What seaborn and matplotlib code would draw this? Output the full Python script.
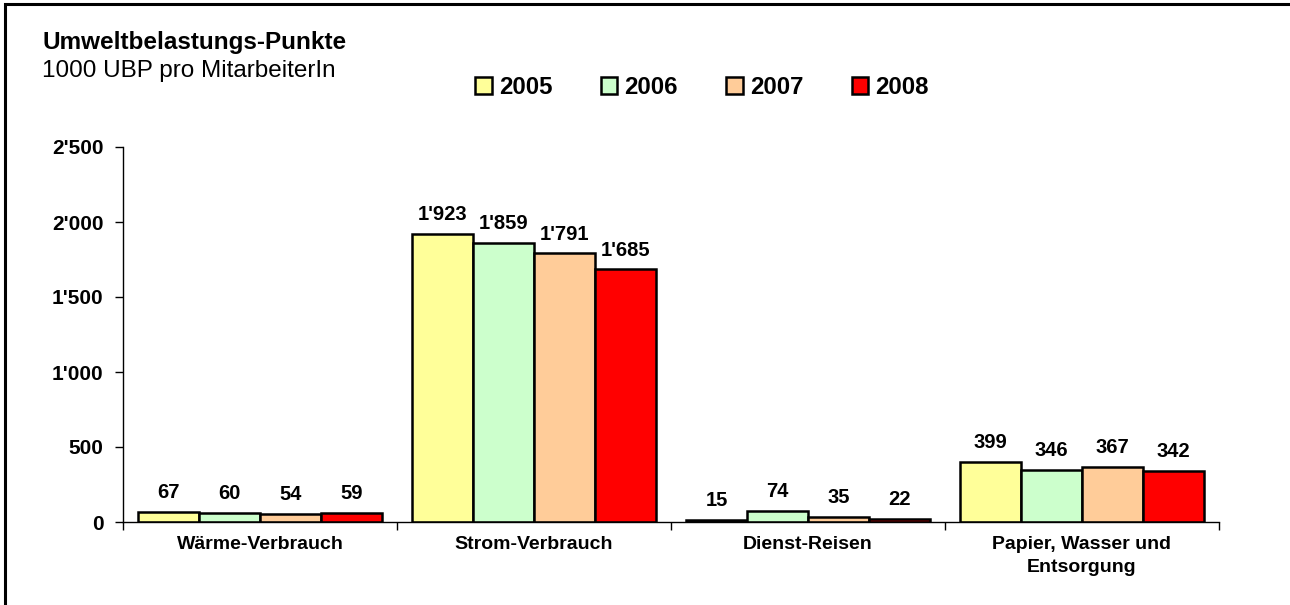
## IMPORTS
import numpy as np
import pandas as pd

import matplotlib
matplotlib.use('Agg')
import matplotlib.pyplot as plt
from matplotlib.patches import Rectangle
from matplotlib.ticker import FuncFormatter, FixedLocator, NullFormatter
import seaborn as sns

## DATA
categories = ['Wärme-Verbrauch', 'Strom-Verbrauch', 'Dienst-Reisen', 'Papier, Wasser und\nEntsorgung']
years = ['2005', '2006', '2007', '2008']
vals_2005 = [67, 1923, 15, 399]
vals_2006 = [60, 1859, 74, 346]
vals_2007 = [54, 1791, 35, 367]
vals_2008 = [59, 1685, 22, 342]
colors = ['#FFFF99', '#CCFFCC', '#FFCC99', '#FF0000']

# long format for seaborn
df = pd.DataFrame({
    'category': categories * 4,
    'year': np.repeat(years, 4),
    'value': vals_2005 + vals_2006 + vals_2007 + vals_2008,
})

## PLOT
sns.set_style('white')
plt.rcParams['font.family'] = ['Liberation Sans', 'DejaVu Sans']
plt.rcParams['text.color'] = 'black'
plt.rcParams['xtick.color'] = 'black'
plt.rcParams['ytick.color'] = 'black'
plt.rcParams['axes.labelcolor'] = 'black'

fig = plt.figure(figsize=(12.9, 6.05), dpi=100)
ax = fig.add_axes([123 / 1290, 1 - 522 / 605, (1219 - 123) / 1290, (522 - 147) / 605])

sns.barplot(data=df, x='category', y='value', hue='year', palette=colors,
            edgecolor='black', linewidth=1.8, width=0.89, gap=0,
            saturation=1, ax=ax, legend=True)

# value labels
def fmt(v):
    return f'{int(v):,}'.replace(',', "'")

for cont in ax.containers:
    ax.bar_label(cont, labels=[fmt(v) for v in cont.datavalues], padding=7,
                 fontsize=14.5, fontweight='bold', color='black')

ax.set_ylim(0, 2500)
ax.set_xlim(-0.5, 3.5)
ax.set_yticks([0, 500, 1000, 1500, 2000, 2500])
ax.yaxis.set_major_formatter(FuncFormatter(lambda v, p: fmt(v)))
ax.tick_params(axis='y', direction='out', length=6, width=1, color='black',
               labelsize=15, pad=8, left=True)
for lab in ax.get_yticklabels():
    lab.set_fontweight('bold')

# x ticks: marks at group borders, labels at group centres
ax.xaxis.set_major_locator(FixedLocator([-0.5, 0.5, 1.5, 2.5, 3.5]))
ax.xaxis.set_major_formatter(NullFormatter())
ax.xaxis.set_minor_locator(FixedLocator([0, 1, 2, 3]))
ax.set_xticklabels(categories, minor=True, fontsize=14, fontweight='bold',
                   linespacing=1.45)
ax.tick_params(axis='x', which='major', direction='out', length=6, width=1,
               color='black', bottom=True)
ax.tick_params(axis='x', which='minor', length=0, pad=10)

ax.set_xlabel('')
ax.set_ylabel('')
sns.despine(ax=ax)
for s in ['left', 'bottom']:
    ax.spines[s].set_color('black')
    ax.spines[s].set_linewidth(1)

# legend on top
handles, labels = ax.get_legend_handles_labels()
ax.get_legend().remove()
fig.legend(handles, labels, loc='center', bbox_to_anchor=(702 / 1290, 1 - 87 / 605),
           ncol=4, frameon=False, handlelength=0.7, handleheight=0.7,
           handletextpad=0.3, columnspacing=2.0,
           prop={'weight': 'bold', 'size': 17.3})

# titles
fig.text(42 / 1290, 1 - 42 / 605, 'Umweltbelastungs-Punkte', fontsize=17.5,
         fontweight='bold', va='center', ha='left')
fig.text(42 / 1290, 1 - 71 / 605, '1000 UBP pro MitarbeiterIn', fontsize=17.5,
         va='center', ha='left')

# chart frame (left and top edges visible)
fig.patches.append(Rectangle((5 / 1290, -0.1), 1.2, 1 - 4 / 605 + 0.1,
                             transform=fig.transFigure, fill=False,
                             edgecolor='black', linewidth=2.2))

fig.savefig('out.png', dpi=100)
